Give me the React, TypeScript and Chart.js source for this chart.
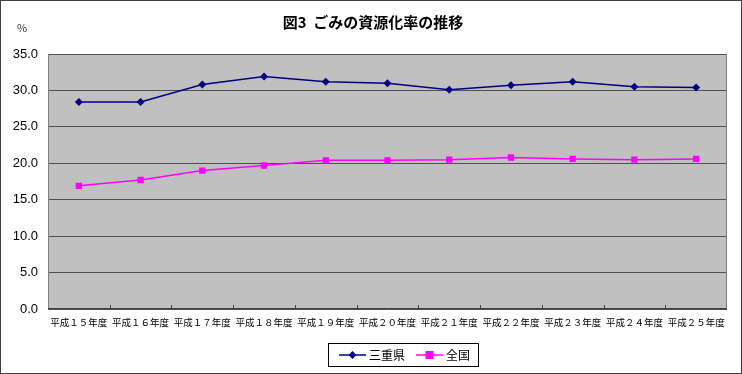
import React, { useEffect, useRef } from "react";
import { Chart, registerables } from "chart.js";

Chart.register(...registerables);

const categories = [
  "平成１５年度", "平成１６年度", "平成１７年度", "平成１８年度", "平成１９年度", "平成２０年度",
  "平成２１年度", "平成２２年度", "平成２３年度", "平成２４年度", "平成２５年度",
];
const mieValues = [28.4, 28.4, 30.8, 31.9, 31.2, 31.0, 30.1, 30.7, 31.2, 30.5, 30.4];
const zenkokuValues = [16.9, 17.7, 19.0, 19.7, 20.4, 20.4, 20.5, 20.8, 20.6, 20.5, 20.6];
const seriesNames = ["三重県", "全国"];
const titleText = "図3  ごみの資源化率の推移";
const unitText = "%";

const W = 742;
const H = 374;
const JP = '"Noto Sans CJK JP", sans-serif';

const decorPlugin = {
  id: "decor",
  beforeDraw(chart: any) {
    const { ctx, chartArea } = chart;
    ctx.save();
    ctx.fillStyle = "#ffffff";
    ctx.fillRect(0, 0, W, H);
    ctx.fillStyle = "#c0c0c0";
    ctx.fillRect(chartArea.left, chartArea.top, chartArea.right - chartArea.left, chartArea.bottom - chartArea.top);
    ctx.restore();
  },
  afterDraw(chart: any) {
    const { ctx, chartArea } = chart;
    ctx.save();
    ctx.strokeStyle = "#808080";
    ctx.lineWidth = 1;
    ctx.beginPath();
    ctx.moveTo(chartArea.right - 0.5, chartArea.top);
    ctx.lineTo(chartArea.right - 0.5, chartArea.bottom);
    ctx.stroke();
    ctx.strokeStyle = "#404040";
    ctx.beginPath();
    ctx.moveTo(chartArea.left, chartArea.bottom - 0.5);
    ctx.lineTo(chartArea.right, chartArea.bottom - 0.5);
    ctx.stroke();
    const n = categories.length;
    const step = (chartArea.right - chartArea.left) / n;
    for (let i = 1; i < n; i++) {
      const x = Math.round(chartArea.left + step * i) + 0.5;
      ctx.beginPath();
      ctx.moveTo(x, chartArea.bottom);
      ctx.lineTo(x, chartArea.bottom - 4);
      ctx.stroke();
    }
    ctx.fillStyle = "#000000";
    ctx.font = "bold 15px " + JP;
    ctx.textAlign = "center";
    ctx.textBaseline = "middle";
    ctx.fillText(titleText, 373, 22);
    ctx.font = "11px " + JP;
    ctx.fillStyle = "#333333";
    ctx.fillText(unitText, 22, 28);
    const lx = 328, ly = 343, lw = 150, lh = 23;
    ctx.strokeStyle = "#000000";
    ctx.lineWidth = 1;
    ctx.strokeRect(lx + 0.5, ly + 0.5, lw, lh);
    const cy = ly + lh / 2 + 0.5;
    const items = chart.data.datasets;
    const starts = [339, 416];
    items.forEach((ds: any, i: number) => {
      const x0 = starts[i];
      ctx.strokeStyle = ds.borderColor;
      ctx.lineWidth = 1.5;
      ctx.beginPath();
      ctx.moveTo(x0, cy);
      ctx.lineTo(x0 + 27, cy);
      ctx.stroke();
      ctx.fillStyle = ds.backgroundColor;
      const mx = x0 + 13.5;
      if (ds.pointStyle === "rectRot") {
        ctx.beginPath();
        ctx.moveTo(mx, cy - 4);
        ctx.lineTo(mx + 4, cy);
        ctx.lineTo(mx, cy + 4);
        ctx.lineTo(mx - 4, cy);
        ctx.closePath();
        ctx.fill();
      } else {
        ctx.fillRect(mx - 4, cy - 4, 8, 8);
      }
      ctx.fillStyle = "#000000";
      ctx.font = "12px " + JP;
      ctx.textAlign = "left";
      ctx.textBaseline = "middle";
      ctx.fillText(ds.label, x0 + 30, cy);
    });
    ctx.strokeStyle = "#404040";
    ctx.lineWidth = 1;
    ctx.strokeRect(0.5, 0.5, W - 1, H - 1);
    ctx.restore();
  },
};

export default function App() {
  const ref = useRef<HTMLCanvasElement>(null);
  useEffect(() => {
    if (!ref.current) return;
    const chart = new Chart(ref.current, {
      type: "line",
      data: {
        labels: categories,
        datasets: [
          {
            label: seriesNames[0],
            data: mieValues,
            borderColor: "#000080",
            backgroundColor: "#000080",
            borderWidth: 1.5,
            pointStyle: "rectRot",
            pointRadius: 4,
            pointBorderWidth: 0,
            tension: 0,
          },
          {
            label: seriesNames[1],
            data: zenkokuValues,
            borderColor: "#ff00ff",
            backgroundColor: "#ff00ff",
            borderWidth: 1.5,
            pointStyle: "rect",
            pointRadius: 4.5,
            pointBorderWidth: 0,
            tension: 0,
          },
        ],
      },
      plugins: [decorPlugin],
      options: {
        responsive: false,
        animation: false,
        layout: { padding: { top: 54, right: 15, left: 0, bottom: 0 } },
        plugins: {
          legend: { display: false },
          title: { display: false },
          tooltip: { enabled: false },
        },
        scales: {
          x: {
            type: "category",
            offset: true,
            afterFit: (s: any) => {
              s.height = 65;
            },
            grid: { display: false, drawTicks: false },
            border: { display: false },
            ticks: {
              color: "#000000",
              font: { family: JP, size: 9.5 },
              padding: 8,
              maxRotation: 0,
              autoSkip: false,
            },
          },
          y: {
            min: 0,
            max: 35,
            afterFit: (s: any) => {
              s.width = 48;
            },
            grid: { color: "#505050", lineWidth: 1, drawTicks: false },
            border: { display: true, color: "#808080" },
            ticks: {
              stepSize: 5,
              color: "#000000",
              font: { family: '"Liberation Sans", Arial, sans-serif', size: 13 },
              padding: 10,
              callback: (v: any) => Number(v).toFixed(1),
            },
          },
        },
      },
    } as any);
    return () => chart.destroy();
  }, []);
  return (
    <div style={{ position: "fixed", left: 0, top: 0, width: W, height: H }}>
      <canvas ref={ref} width={W} height={H} style={{ display: "block", width: W, height: H }} />
    </div>
  );
}
